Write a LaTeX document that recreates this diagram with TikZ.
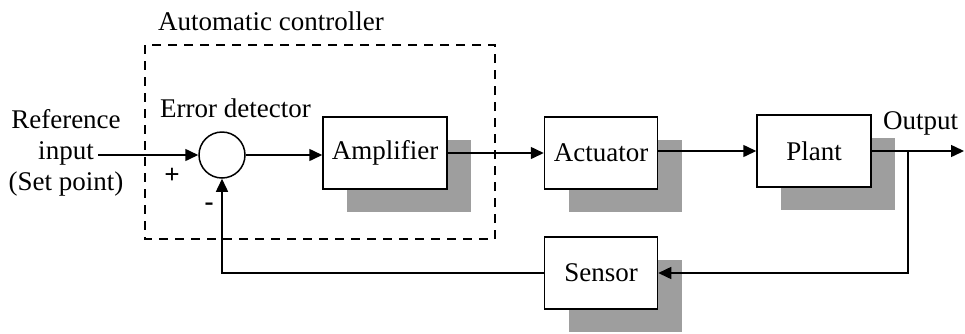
\documentclass[tikz,border=0pt]{standalone}
\usepackage{fontspec}
\setmainfont{Liberation Serif}
\usetikzlibrary{arrows.meta,shadows}
\begin{document}
\begin{tikzpicture}[x=1pt,y=-1pt,
  font=\fontsize{27}{31}\selectfont,
  block/.style={draw, line width=1.5pt, fill=white, minimum width=#1,
    minimum height=72pt, inner sep=0pt,
    drop shadow={shadow xshift=24pt, shadow yshift=-23pt, fill=black!38, opacity=1}},
  block/.default=114pt,
  flow/.style={line width=1.5pt, -{Triangle[length=13pt,width=12pt]}},
  ctrlbox/.style={line width=1.2pt, dash pattern=on 9pt off 7pt},
  lbl/.style={inner sep=0pt}
]
\useasboundingbox (0,0) rectangle (965,333);

% automatic controller frame
\draw[ctrlbox] (145,45) rectangle (495,239);
\node[lbl, anchor=base west] (ctrl) at (158,30) {Automatic controller};

% summing junction
\node[draw, circle, line width=1.5pt, minimum size=46pt, inner sep=0pt] (sum) at (222,155) {};
\node[lbl, anchor=base west] (errlbl) at (160,117) {Error detector};
\node[lbl] (plus) at (172,176) {\textbf{+}};
\node[lbl] (minus) at (209,207) {\textbf{-}};

% reference input
\node[lbl, align=center] (ref) at (66,153) {Reference\\input\\(Set point)};
\coordinate (refend) at (98,155);

% forward path blocks
\node[block=124pt] (amp) at (385,153) {Amplifier};
\node[block=113pt] (act) at (601,153) {Actuator};
\node[block=114pt] (plant) at (814,151) {Plant};
\node[block=113pt] (sens) at (601,273) {Sensor};

% output
\coordinate (out) at (964,151);
\coordinate (tap) at (908,151);
\node[lbl, anchor=base west] (outlbl) at (883,129) {Output};

% connections
\draw[flow] (refend) -- (sum.west);
\draw[flow] (sum.east) -- (amp.west |- sum.east);
\draw[flow] (amp.east) -- (act.west);
\draw[flow] (act.east |- plant.west) -- (plant.west);
\draw[flow] (plant.east) -- (out);
\draw[flow] (tap) |- (sens.east);
\draw[flow] (sens.west) -| (sum.south);
\end{tikzpicture}
\end{document}
